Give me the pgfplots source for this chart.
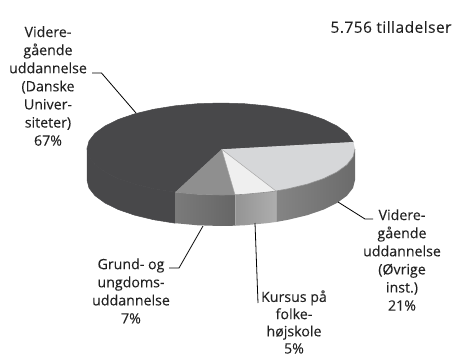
\documentclass[border=0pt]{standalone}
\usepackage{pgfplots}
\pgfplotsset{compat=1.18}
\usepackage{fontspec}
\setmainfont{Open Sans}[FakeBold=0.08]
\definecolor{dk}{HTML}{48484A}
\definecolor{lt}{HTML}{D6D7D9}
\definecolor{wh}{HTML}{EFEFEF}
\definecolor{md}{HTML}{8F8F8F}
\definecolor{txt}{HTML}{222222}
\begin{document}
\begin{tikzpicture}
\begin{axis}[scale only axis,width=453pt,height=356pt,xmin=0,xmax=453,ymin=0,ymax=356,y dir=reverse,hide axis,clip=false]
% dark wall
\addplot[fill=dk,draw=dk,line width=0.5pt] coordinates {(175.2,192.2)(154,188.8)(134.8,184.2)(118.4,178.6)(105,172)(95,164.7)(89,157)(87,149)(87,180)(89,188)(95,195.7)(105,203)(118.4,209.6)(134.8,215.2)(154,219.8)(175.2,223.2)} -- cycle;
% wall of the right slice
\addplot[draw=none,left color=black!48,right color=black!58] coordinates {(355,149)(353,157)(347,164.7)(337,172)(323.6,178.6)(307.2,184.2)(288,188.8)(276,191)(276,222)(288,219.8)(307.2,215.2)(323.6,209.6)(337,203)(347,195.7)(353,188)(355,180)} -- cycle;
% wall of the small slice
\addplot[draw=none,left color=black!42,right color=black!32] coordinates {(276,191)(266.8,192.2)(244.3,194.3)(235,194.8)(235,225.7)(244.3,225.3)(266.8,223.2)(276,222)} -- cycle;
% wall of the medium slice
\addplot[draw=none,left color=black!52,right color=black!60] coordinates {(235,194.8)(221,195)(197.7,194.3)(175.2,192.2)(175.2,223.2)(197.7,225.3)(221,226)(235,225.7)} -- cycle;
% dark top
\addplot[fill=dk,draw=dk,line width=0.5pt] coordinates {(221.7,149.3)(353.3,142)(347,133.3)(337,126)(323.6,119.4)(307.2,113.8)(288,109.2)(266.8,105.8)(244.3,103.7)(221,103)(197.7,103.7)(175.2,105.8)(154,109.2)(134.8,113.8)(118.4,119.4)(105,126)(95,133.3)(89,141)(87,149)(89,157)(95,164.7)(105,172)(118.4,178.6)(134.8,184.2)(154,188.8)(175.2,192.2)} -- cycle;
% light top
\addplot[fill=lt,draw=none] coordinates {(221.7,149.3)(353.3,142)(355,149)(353,157)(347,164.7)(337,172)(323.6,178.6)(307.2,184.2)(288,188.8)(276,191)} -- cycle;
% white top
\addplot[fill=wh,draw=none] coordinates {(221.7,149.3)(276,191)(266.8,192.2)(244.3,194.3)(235,194.8)} -- cycle;
% medium top
\addplot[fill=md,draw=none] coordinates {(221.7,149.3)(235,194.8)(221,195)(197.7,194.3)(175.2,192.2)} -- cycle;
% rim and edges
\addplot[draw=black!45,line width=0.6pt] coordinates {(175.2,192.2)(197.7,194.3)(221,195)(235,194.8)(244.3,194.3)(266.8,192.2)(276,191)(288,188.8)(307.2,184.2)(323.6,178.6)(337,172)(347,164.7)(353,157)(355,149)};
\addplot[draw=black!35,line width=0.5pt] coordinates {(235,194.8)(235,225.7)};
\addplot[draw=black!35,line width=0.5pt] coordinates {(276,191)(276,222)};
\addplot[draw=black!35,line width=0.5pt] coordinates {(221.7,149.3)(276,191)};
\addplot[draw=black!35,line width=0.5pt] coordinates {(221.7,149.3)(235,194.8)};
% leaders
\addplot[draw=black,line width=0.8pt] coordinates {(92,73)(101.5,73)(136,113)};
\addplot[draw=black,line width=0.8pt] coordinates {(338,202)(365,219)(373,219)};
\addplot[draw=black,line width=0.8pt] coordinates {(255,223)(258,303)};
\addplot[draw=black,line width=0.8pt] coordinates {(203,226)(179,268)(169,268)};
% texts
\tikzset{lb/.style={align=center,text=txt,font=\fontsize{14.2}{18.1}\selectfont,inner sep=0pt}}
\node[lb,font=\fontsize{15.5}{18.1}\selectfont\addfontfeature{LetterSpace=3}] at (axis cs:391,27) {5.756 tilladelser};
\node[lb] at (axis cs:48,86) {Videre-\\gående\\uddannelse\\(Danske\\Univer-\\siteter)\\67\%};
\node[lb] at (axis cs:402,260) {Videre-\\gående\\uddannelse\\(Øvrige\\inst.)\\21\%};
\node[lb,font=\fontsize{14.2}{17.2}\selectfont] at (axis cs:294,322) {Kursus på\\folke-\\højskole\\5\%};
\node[lb] at (axis cs:131,291) {Grund- og\\ungdoms-\\uddannelse\\7\%};
\end{axis}
\pgfresetboundingbox
\path[use as bounding box] (current axis.south west) rectangle (current axis.north east);
\end{tikzpicture}
\end{document}
